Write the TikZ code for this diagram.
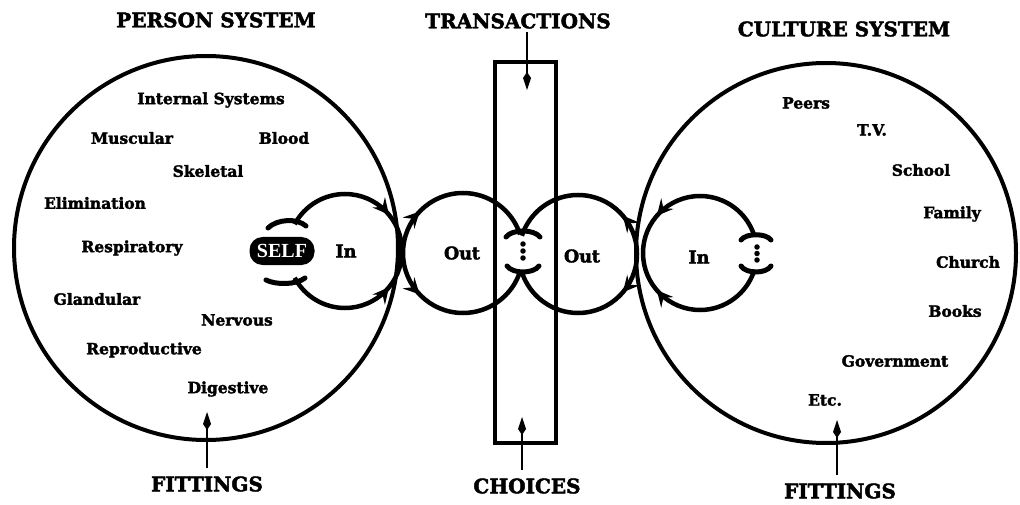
\documentclass[tikz,border=0pt]{standalone}
\usepackage{fontspec}
\setmainfont{DejaVu Serif}
\newfontfamily\heavy{DejaVu Serif Bold}[FakeBold=2.2]
\newfontfamily\selffont{Liberation Serif Bold}
\usetikzlibrary{arrows.meta,decorations.markings}

\begin{document}
\begin{tikzpicture}[x=1pt,y=-1pt,
  sysring/.style={draw,circle,line width=4pt,inner sep=0pt},
  loopline/.style={line width=4.5pt},
  capbar/.style={line width=5pt,line cap=round},
  ttl/.style={font=\heavy\fontsize{20}{22}\selectfont,inner sep=0pt},
  lbl/.style={font=\heavy\fontsize{15.5}{18}\selectfont,inner sep=0pt},
  flow/.style={font=\heavy\fontsize{17.5}{19}\selectfont,inner sep=0pt},
  pointer/.style={line width=2pt,-{Kite[length=18pt,width=8pt,inset=6pt]}},
  looptip/.tip={Stealth[length=16pt,width=16pt,inset=6pt]},
  tipfwd/.style={postaction={decorate,decoration={markings,
      mark=at position #1 with {\arrow{looptip}}}}},
  tipback/.style={postaction={decorate,decoration={markings,
      mark=at position #1 with {\arrowreversed{looptip}}}}},
  dot/.style={fill,circle,inner sep=0pt,minimum size=5.5pt}
]
\useasboundingbox (0,0) rectangle (1020,505);

% the two systems and the transaction column
\node[sysring,minimum size=384pt] (person) at (206,248) {};
\node[sysring,minimum size=380pt] (culture) at (826,253) {};
\node[draw,line width=4pt,inner sep=0pt,minimum width=61pt,minimum height=381pt] (trans) at (525.5,252.5) {};

% centres of the four exchange loops
\coordinate (cInL) at (345,251);
\coordinate (cOutL) at (463,253);
\coordinate (cOutR) at (578,254);
\coordinate (cInR) at (700,253);

% person side: In loop
\draw[loopline,tipback=0.26] (cInL) ++(0:57) arc[start angle=0,end angle=-152,radius=57];
\draw[loopline,tipback=0.26] (cInL) ++(0:57) arc[start angle=0,end angle=152,radius=57];
% person side: Out loop
\draw[loopline,tipfwd=0.27] (cOutL) ++(180:60) arc[start angle=180,end angle=342,radius=60];
\draw[loopline,tipfwd=0.27] (cOutL) ++(180:60) arc[start angle=180,end angle=18,radius=60];
% culture side: Out loop
\draw[loopline,tipfwd=0.25] (cOutR) ++(0:59) arc[start angle=0,end angle=-162,radius=59];
\draw[loopline,tipfwd=0.25] (cOutR) ++(0:59) arc[start angle=0,end angle=162,radius=59];
% culture side: In loop
\draw[loopline,tipback=0.25] (cInR) ++(180:57) arc[start angle=180,end angle=343,radius=57];
\draw[loopline,tipback=0.25] (cInR) ++(180:57) arc[start angle=180,end angle=17,radius=57];

% end bars of the open loops
\draw[capbar] (268,228) .. controls (277,219) and (297,218) .. (306,226);
\draw[capbar] (266,280) .. controls (276,285) and (296,285) .. (305,278);
\draw[capbar] (506,237) .. controls (512,229) and (534,229) .. (540,237);
\draw[capbar] (507,266) .. controls (513,274) and (533,274) .. (539,266);
\draw[capbar] (741,240) .. controls (746,233) and (766,233) .. (771,240);
\draw[capbar] (741,266) .. controls (746,274) and (766,274) .. (771,266);
\node[dot] (d1) at (523,244) {};
\node[dot] (d2) at (523,251) {};
\node[dot] (d3) at (523,258) {};
\node[dot] (d4) at (757,247) {};
\node[dot] (d5) at (757,253.5) {};
\node[dot] (d6) at (757,260) {};

% the self
\node[fill=black,rounded corners=13pt,minimum width=65pt,minimum height=28pt,inner sep=0pt,
      text=white,font=\selffont\fontsize{20}{20}\selectfont] (self) at (282,251) {SELF};

% loop labels
\node[flow] (inL) at (346,251) {In};
\node[flow] (outL) at (462,253) {Out};
\node[flow] (outR) at (582,256) {Out};
\node[flow] (inR) at (699,257) {In};

% headings
\node[ttl] (personT) at (216,20) {PERSON SYSTEM};
\node[ttl] (transT) at (518,21) {TRANSACTIONS};
\node[ttl] (cultureT) at (844,29) {CULTURE SYSTEM};
\node[ttl] (fitL) at (207,484) {FITTINGS};
\node[ttl] (choiceT) at (527,486) {CHOICES};
\node[ttl] (fitR) at (840,491) {FITTINGS};

% pointers
\coordinate (tTip) at (527,90);
\coordinate (cTip) at (522,417);
\coordinate (fLTip) at (207,412);
\coordinate (fRTip) at (837,420);
\draw[pointer] (transT.south -| tTip) ++(0,3) -- (tTip);
\draw[pointer] (choiceT.north -| cTip) ++(0,-8) -- (cTip);
\draw[pointer] (fitL.north -| fLTip) ++(0,-8) -- (fLTip);
\draw[pointer] (fitR.north -| fRTip) ++(0,-8) -- (fRTip);

% internal systems of the person
\node[lbl] (intsys) at (211,100) {Internal Systems};
\node[lbl] (musc) at (132,138) {Muscular};
\node[lbl] (blood) at (284,138) {Blood};
\node[lbl] (skel) at (208,171) {Skeletal};
\node[lbl] (elim) at (95,203) {Elimination};
\node[lbl] (resp) at (132,248) {Respiratory};
\node[lbl] (gland) at (97,299) {Glandular};
\node[lbl] (nerv) at (237,320) {Nervous};
\node[lbl] (repro) at (144,350) {Reproductive};
\node[lbl] (dig) at (228,389) {Digestive};

% parts of the culture
\node[lbl] (peers) at (806,103) {Peers};
\node[lbl] (tv) at (872,130) {T.V.};
\node[lbl] (school) at (921,170) {School};
\node[lbl] (family) at (952,214) {Family};
\node[lbl] (church) at (968,262) {Church};
\node[lbl] (books) at (955,311) {Books};
\node[lbl] (gov) at (895,361) {Government};
\node[lbl] (etc) at (825,400) {Etc.};
\end{tikzpicture}
\end{document}
